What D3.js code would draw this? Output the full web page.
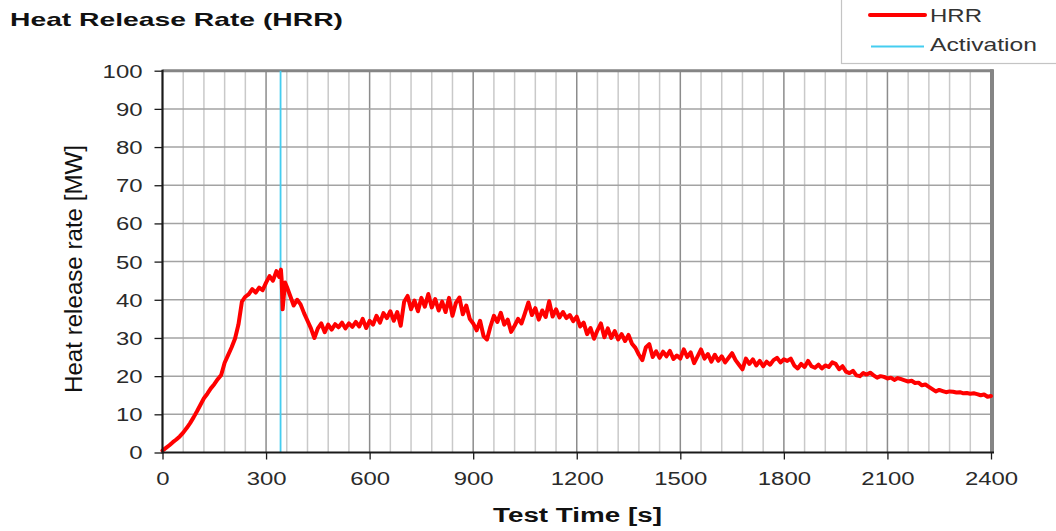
<!DOCTYPE html>
<html>
<head>
<meta charset="utf-8">
<script src="https://cdn.jsdelivr.net/npm/d3@7"></script>
<style>
  html, body { margin: 0; padding: 0; background: #fff; }
  svg { display: block; }
  text { font-family: "Liberation Sans", Arial, sans-serif; }
</style>
</head>
<body>
<svg id="chart" width="1056" height="531"></svg>
<script>
// ---------- DATA ----------
const chartTitle = "Heat Release Rate (HRR)";
const xAxisTitle = "Test Time [s]";
const yAxisTitle = "Heat release rate [MW]";
const xTicks = [0, 300, 600, 900, 1200, 1500, 1800, 2100, 2400];
const yTicks = [0, 10, 20, 30, 40, 50, 60, 70, 80, 90, 100];
const xMinorGrid = [60,120,180,240,360,420,480,540,660,720,780,840,960,1020,1080,1140,1260,1320,1380,1440,1560,1620,1680,1740,1860,1920,1980,2040,2160,2220,2280,2340];
const activationTime = 342;
const legendLabels = ["HRR", "Activation"];

const hrrTime = [0,10,20,30,40,50,60,70,80,90,100,110,120,130,140,150,160,170,180,190,200,210,220,230,240,250,260,270,280,290,300,310,320,330,338,343,345,348,355,362,370,380,390,400,410,420,430,440,450,460,470,480,490,500,510,520,530,540,550,560,570,580,590,600,610,620,630,640,650,660,670,680,690,700,710,720,730,740,750,760,770,780,790,800,810,820,830,840,850,860,870,880,890,900,910,920,930,940,950,960,970,980,990,1000,1010,1020,1030,1040,1050,1060,1070,1080,1090,1100,1110,1120,1130,1140,1150,1160,1170,1180,1190,1200,1210,1220,1230,1240,1250,1260,1270,1280,1290,1300,1310,1320,1330,1340,1350,1360,1370,1380,1390,1400,1410,1420,1430,1440,1450,1460,1470,1480,1490,1500,1510,1520,1530,1540,1550,1560,1570,1580,1590,1600,1610,1620,1630,1640,1650,1660,1670,1680,1690,1700,1710,1720,1730,1740,1750,1760,1770,1780,1790,1800,1810,1820,1830,1840,1850,1860,1870,1880,1890,1900,1910,1920,1930,1940,1950,1960,1970,1980,1990,2000,2010,2020,2030,2040,2050,2060,2070,2080,2090,2100,2110,2120,2130,2140,2150,2160,2170,2180,2190,2200,2210,2220,2230,2240,2250,2260,2270,2280,2290,2300,2310,2320,2330,2340,2350,2360,2370,2380,2390,2400];
const hrrValue = [0.5,1.2,1.9,2.7,3.4,4.2,5.2,6.4,7.7,9.2,10.8,12.5,14.2,15.4,16.8,17.9,19.2,20.3,23.5,25.5,27.5,29.8,33.5,39.5,40.8,41.5,42.8,41.9,43.2,42.5,44.5,46.2,45.0,47.5,46.0,47.9,45.5,37.5,44.5,43.0,41.0,38.5,40.0,38.8,36.5,34.5,32.5,30.0,32.5,33.8,31.5,33.5,32.2,33.6,32.8,34.0,32.5,33.8,32.9,34.2,33.0,35.0,32.6,34.5,33.5,35.8,34.0,36.5,35.2,37.0,34.5,36.8,33.2,39.5,41.0,37.5,39.8,37.0,40.5,38.2,41.5,38.0,40.2,37.2,39.5,36.8,40.5,35.8,39.2,40.6,36.2,38.5,35.0,33.8,32.0,34.5,30.5,29.6,33.0,35.8,34.2,36.6,33.5,34.8,31.6,33.2,35.0,33.8,36.5,39.3,36.0,37.8,34.8,37.2,35.5,39.6,35.6,37.5,35.4,36.8,35.2,36.0,34.4,35.6,33.0,34.0,31.0,32.6,29.8,32.0,33.8,30.2,32.5,30.0,31.8,29.6,31.0,29.2,30.8,28.5,27.4,25.6,24.2,27.5,28.4,25.0,26.5,24.8,26.4,25.2,26.6,24.5,25.4,24.6,27.0,25.0,26.2,23.4,25.2,27.0,24.6,25.8,23.8,25.6,24.0,25.2,23.6,24.8,26.0,24.2,23.0,21.8,24.6,23.2,24.4,22.8,24.0,22.6,23.8,23.0,24.2,24.8,23.6,24.4,24.0,24.6,22.8,22.0,23.2,22.4,24.0,22.6,22.2,23.0,22.0,22.8,22.4,23.6,23.2,21.8,22.6,21.2,20.8,21.4,20.2,20.0,20.8,20.4,20.9,20.2,19.6,20.0,19.8,19.4,19.6,19.0,19.5,19.2,18.9,18.6,18.8,18.2,18.3,17.6,17.8,17.2,16.6,16.0,16.4,16.1,15.8,16.0,15.9,15.7,15.8,15.5,15.6,15.4,15.5,15.3,15.0,15.2,14.6,14.8];

// ---------- LAYOUT ----------
const svg = d3.select("#chart");
const plot = { left: 162.5, right: 991, top: 70.7, bottom: 452.5 };
const x = d3.scaleLinear().domain([0, 2400]).range([plot.left, plot.right]);
const y = d3.scaleLinear().domain([0, 100]).range([plot.bottom, plot.top]);
const digitW = 13.3;

// gridlines
const grid = svg.append("g");
grid.selectAll(".vminor").data(xMinorGrid).enter().append("line")
  .attr("x1", d => x(d)).attr("x2", d => x(d))
  .attr("y1", plot.top).attr("y2", plot.bottom)
  .attr("stroke", "#c9c9c9").attr("stroke-width", 1.5);
grid.selectAll(".vmajor").data(xTicks.filter(d => d > 0 && d < 2400)).enter().append("line")
  .attr("x1", d => x(d)).attr("x2", d => x(d))
  .attr("y1", plot.top).attr("y2", plot.bottom)
  .attr("stroke", "#8c8c8c").attr("stroke-width", 1.5);
grid.selectAll(".h").data(yTicks.filter(d => d > 0 && d < 100)).enter().append("line")
  .attr("x1", plot.left).attr("x2", plot.right)
  .attr("y1", d => y(d)).attr("y2", d => y(d))
  .attr("stroke", "#a3a3a3").attr("stroke-width", 1.5);

// frame: top & right gray
svg.append("line").attr("x1", plot.left).attr("x2", plot.right + 2)
  .attr("y1", y(100)).attr("y2", y(100)).attr("stroke", "#858585").attr("stroke-width", 3);
svg.append("line").attr("x1", x(2400) + 1).attr("x2", x(2400) + 1)
  .attr("y1", plot.top - 1.5).attr("y2", plot.bottom)
  .attr("stroke", "#858585").attr("stroke-width", 4);

// activation line
svg.append("line").attr("x1", x(activationTime)).attr("x2", x(activationTime))
  .attr("y1", plot.top).attr("y2", plot.bottom)
  .attr("stroke", "#45cdf0").attr("stroke-width", 1.8);

// HRR line
const hrrData = hrrTime.map((t, i) => ({ t: t, v: hrrValue[i] }));
svg.append("path").datum(hrrData)
  .attr("fill", "none").attr("stroke", "#ff0000").attr("stroke-width", 4)
  .attr("stroke-linejoin", "round").attr("stroke-linecap", "round")
  .attr("d", d3.line().x(d => x(d.t)).y(d => y(d.v)));

// axes
const yAxis = d3.axisLeft(y).tickValues(yTicks).tickSize(8).tickPadding(12).tickFormat(d3.format("d"));
const gy = svg.append("g").attr("transform", `translate(${plot.left},0)`).call(yAxis);
const xAxis = d3.axisBottom(x).tickValues(xTicks).tickSize(7).tickPadding(13).tickFormat(d3.format("d"));
const gx = svg.append("g").attr("transform", `translate(0,${plot.bottom})`).call(xAxis);
[gx, gy].forEach(g => {
  g.select(".domain").attr("stroke", "#1a1a1a").attr("stroke-width", 2.2);
  g.selectAll(".tick line").attr("stroke", "#1a1a1a").attr("stroke-width", 1.3);
  g.selectAll(".tick text")
    .attr("fill", "#2a2a2a").style("font-size", "18px")
    .style("font-family", "'Liberation Sans', Arial, sans-serif")
    .attr("lengthAdjust", "spacingAndGlyphs")
    .attr("textLength", function () { return this.textContent.length * digitW; });
});
gx.select(".domain").attr("d", `M${plot.left},0H${plot.right + 3}`);
gy.select(".domain").attr("d", `M0,${y(0) + 1}V${plot.top - 1}`);
gy.selectAll(".tick text").attr("dy", "0.36em");
gx.selectAll(".tick text").attr("dy", "0.71em");

// titles
svg.append("text").text(chartTitle)
  .attr("x", 10).attr("y", 26)
  .style("font-size", "19px").style("font-weight", "bold").attr("fill", "#111")
  .attr("textLength", 333).attr("lengthAdjust", "spacingAndGlyphs");
svg.append("text").text(xAxisTitle)
  .attr("x", 493).attr("y", 522)
  .style("font-size", "20px").style("font-weight", "bold").attr("fill", "#111")
  .attr("textLength", 169).attr("lengthAdjust", "spacingAndGlyphs");
svg.append("text").text(yAxisTitle)
  .attr("transform", "translate(82,269) scale(1.3,1) rotate(-90)")
  .attr("text-anchor", "middle")
  .style("font-size", "19px").attr("fill", "#111")
  .attr("textLength", 248).attr("lengthAdjust", "spacingAndGlyphs");

// legend
const lg = svg.append("g");
lg.append("rect").attr("x", 841.5).attr("y", -3).attr("width", 240).attr("height", 66.5)
  .attr("fill", "#fff").attr("stroke", "#c4c4c4").attr("stroke-width", 1.2);
lg.append("line").attr("x1", 870).attr("x2", 925).attr("y1", 15).attr("y2", 15)
  .attr("stroke", "#ff0000").attr("stroke-width", 4).attr("stroke-linecap", "round");
lg.append("line").attr("x1", 871).attr("x2", 924).attr("y1", 46.5).attr("y2", 46.5)
  .attr("stroke", "#45cdf0").attr("stroke-width", 1.8);
lg.append("text").text(legendLabels[0]).attr("x", 930).attr("y", 21.5)
  .style("font-size", "19px").attr("fill", "#333")
  .attr("textLength", 52).attr("lengthAdjust", "spacingAndGlyphs");
lg.append("text").text(legendLabels[1]).attr("x", 930).attr("y", 51)
  .style("font-size", "19px").attr("fill", "#333")
  .attr("textLength", 107).attr("lengthAdjust", "spacingAndGlyphs");
</script>
</body>
</html>
